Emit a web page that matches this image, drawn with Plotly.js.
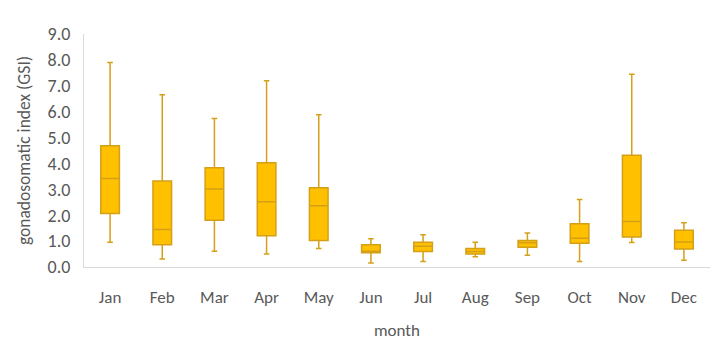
<!DOCTYPE html>
<html>
<head>
<meta charset="utf-8">
<script src="https://cdn.plot.ly/plotly-3.0.1.min.js"></script>
<style>html,body{margin:0;padding:0;background:#fff;}#chart{width:720px;height:351px;}</style>
</head>
<body>
<div id="chart"></div>
<script>
const months = ["Jan","Feb","Mar","Apr","May","Jun","Jul","Aug","Sep","Oct","Nov","Dec"];
const lowerWhisker = [0.96, 0.31, 0.61, 0.50, 0.71, 0.15, 0.21, 0.40, 0.45, 0.21, 0.95, 0.26];
const q1Values     = [2.07, 0.86, 1.81, 1.21, 1.02, 0.55, 0.60, 0.50, 0.76, 0.92, 1.16, 0.70];
const medianValues = [3.42, 1.45, 3.01, 2.52, 2.37, 0.61, 0.80, 0.60, 0.94, 1.11, 1.76, 0.97];
const q3Values     = [4.68, 3.32, 3.83, 4.03, 3.06, 0.86, 0.96, 0.71, 1.02, 1.67, 4.32, 1.42];
const upperWhisker = [7.90, 6.65, 5.74, 7.19, 5.88, 1.09, 1.25, 0.96, 1.31, 2.61, 7.45, 1.71];

const fontFam = 'Carlito, Calibri, "Liberation Sans Narrow", "Noto Sans", sans-serif';

const trace = {
  type: 'box',
  x: months,
  q1: q1Values,
  median: medianValues,
  q3: q3Values,
  lowerfence: lowerWhisker,
  upperfence: upperWhisker,
  boxpoints: false,
  fillcolor: '#FFC000',
  line: {color: '#D4A017', width: 1.5},
  whiskerwidth: 0.3,
  hoverinfo: 'skip'
};

const layout = {
  width: 720, height: 351,
  margin: {l: 84, r: 10, t: 34, b: 84},
  paper_bgcolor: '#fff', plot_bgcolor: '#fff',
  showlegend: false,
  boxgap: 0.49,
  font: {family: fontFam, color: '#595959', size: 17},
  xaxis: {
    type: 'category',
    categoryorder: 'array', categoryarray: months,
    showgrid: false, zeroline: false,
    showline: true, linecolor: '#d9d9d9', linewidth: 1,
    ticks: 'outside', ticklen: 15, tickcolor: 'rgba(0,0,0,0)',
    tickfont: {family: fontFam, size: 17, color: '#595959'},
    title: {text: 'month', font: {family: fontFam, size: 17, color: '#595959'}, standoff: 16}
  },
  yaxis: {
    range: [0, 9], dtick: 1, tick0: 0, tickformat: '.1f',
    showgrid: false, zeroline: false,
    showline: true, linecolor: '#d9d9d9', linewidth: 1,
    ticks: 'outside', ticklen: 9, tickcolor: 'rgba(0,0,0,0)',
    tickfont: {family: fontFam, size: 18, color: '#595959'},
    title: {text: 'gonadosomatic index (GSI)', font: {family: fontFam, size: 17.5, color: '#595959'}, standoff: 12}
  }
};

Plotly.newPlot('chart', [trace], layout, {staticPlot: true, displayModeBar: false});
</script>
</body>
</html>
